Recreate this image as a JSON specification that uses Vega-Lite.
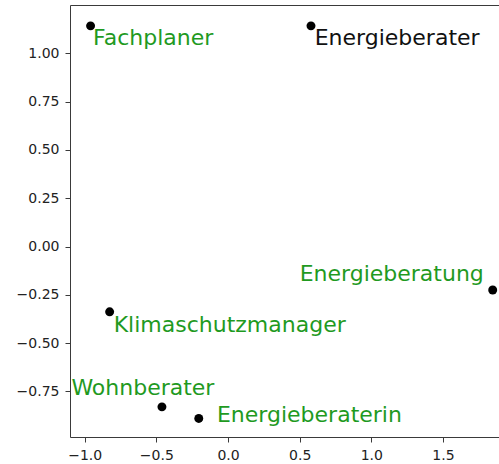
{
  "$schema": "https://vega.github.io/schema/vega-lite/v6.json",
  "autosize": {"type": "none"},
  "width": 429,
  "height": 432,
  "padding": {"left": 70, "top": 5, "right": 0, "bottom": 27},
  "background": "white",
  "config": {
    "view": {"stroke": null},
    "font": "DejaVu Sans",
    "axis": {
      "grid": false,
      "domainColor": "#3a3a3a",
      "domainWidth": 1,
      "tickColor": "#3a3a3a",
      "tickSize": 5,
      "tickWidth": 1,
      "labelFont": "DejaVu Sans",
      "labelFontSize": 14,
      "labelColor": "#222222",
      "labelPadding": 6,
      "title": null
    }
  },
  "data": {
    "values": [
      {"word": "Fachplaner", "x": -0.959, "y": 1.142, "lx": -0.942, "ly": 1.043, "query": false},
      {"word": "Energieberater", "x": 0.579, "y": 1.142, "lx": 0.605, "ly": 1.043, "query": true},
      {"word": "Energieberatung", "x": 1.847, "y": -0.225, "lx": 0.5, "ly": -0.177, "query": false},
      {"word": "Klimaschutzmanager", "x": -0.826, "y": -0.338, "lx": -0.798, "ly": -0.441, "query": false},
      {"word": "Wohnberater", "x": -0.461, "y": -0.83, "lx": -1.093, "ly": -0.769, "query": false},
      {"word": "Energieberaterin", "x": -0.204, "y": -0.89, "lx": -0.077, "ly": -0.908, "query": false}
    ]
  },
  "resolve": {"axis": {"x": "independent", "y": "independent"}},
  "layer": [
    {
      "mark": {"type": "point", "filled": true, "size": 80, "color": "black", "opacity": 1},
      "encoding": {
        "x": {"field": "x", "type": "quantitative",
              "scale": {"domain": [-1.1026, 1.891], "nice": false, "zero": false},
              "axis": {"orient": "bottom", "values": [-1, -0.5, 0, 0.5, 1, 1.5], "format": ".1f"}},
        "y": {"field": "y", "type": "quantitative",
              "scale": {"domain": [-0.986, 1.25], "nice": false, "zero": false},
              "axis": {"orient": "left", "values": [-0.75, -0.5, -0.25, 0, 0.25, 0.5, 0.75, 1], "format": ".2f"}}
      }
    },
    {
      "mark": {"type": "text", "align": "left", "baseline": "alphabetic", "fontSize": 22, "font": "DejaVu Sans"},
      "encoding": {
        "x": {"field": "lx", "type": "quantitative",
              "axis": {"orient": "top", "labels": false, "ticks": false, "domain": true}},
        "y": {"field": "ly", "type": "quantitative",
              "axis": null},
        "text": {"field": "word"},
        "color": {"field": "query", "type": "nominal",
                  "scale": {"domain": [true, false], "range": ["#111111", "#1f9a1f"]},
                  "legend": null}
      }
    }
  ]
}
